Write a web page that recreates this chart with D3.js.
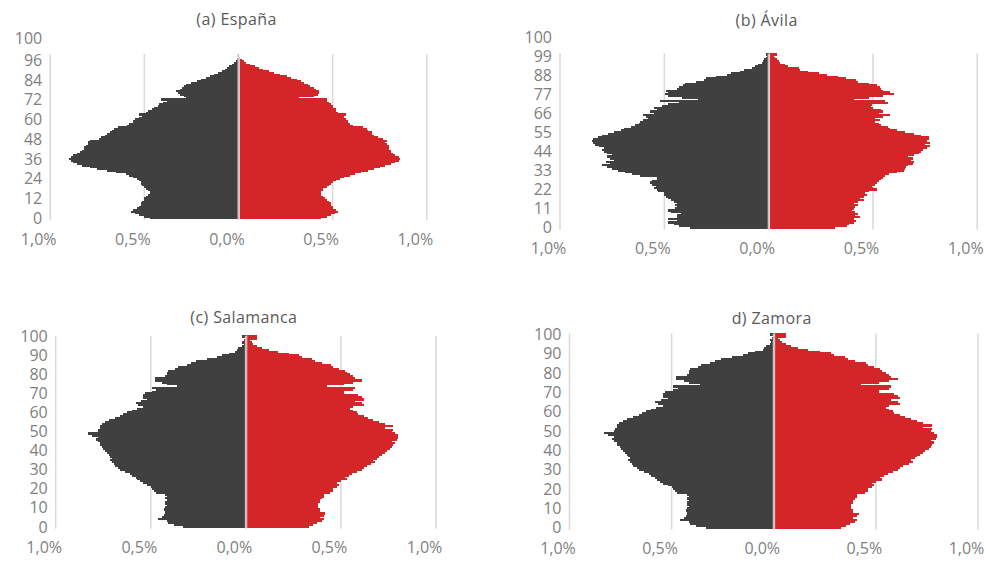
<!DOCTYPE html>
<html><head><meta charset="utf-8">
<script src="https://cdn.jsdelivr.net/npm/d3@7"></script>
<style>
html,body{margin:0;padding:0;background:#fff;}
svg{display:block;font-family:"Open Sans",sans-serif;}
</style></head>
<body><svg id="c" width="986" height="562"></svg>
<script>
// ---------- DATA (percent of total population, by single year of age) ----------
const titles = ["(a) España", "(b) Ávila", "(c) Salamanca", "d) Zamora"];
const xTickValues = [-1, -0.5, 0, 0.5, 1];
const xTickLabels = ["1,0%", "0,5%", "0,0%", "0,5%", "1,0%"];
const yTickStep = [12, 11, 10, 10];
const extraTopLabel = ["100", "100", null, null];

// España: ages 0..99
const espanaMen = [0.47,0.50,0.53,0.55,0.57,0.56,0.54,0.53,0.52,0.52,
 0.51,0.50,0.50,0.49,0.48,0.47,0.47,0.48,0.49,0.50,
 0.51,0.52,0.52,0.53,0.54,0.56,0.58,0.60,0.65,0.70,
 0.75,0.79,0.83,0.86,0.88,0.89,0.90,0.89,0.88,0.86,
 0.84,0.83,0.82,0.82,0.81,0.80,0.80,0.79,0.74,0.73,
 0.71,0.70,0.68,0.67,0.66,0.64,0.59,0.58,0.56,0.56,
 0.55,0.53,0.51,0.53,0.49,0.48,0.46,0.45,0.43,0.42,
 0.40,0.38,0.41,0.28,0.29,0.31,0.32,0.33,0.31,0.30,
 0.29,0.28,0.25,0.22,0.20,0.17,0.15,0.13,0.11,0.09,
 0.07,0.06,0.05,0.035,0.025,0.015,0.01,0.005,0.003,0.002];
const espanaWomen = [0.44,0.47,0.49,0.51,0.53,0.52,0.50,0.50,0.49,0.49,
 0.48,0.47,0.46,0.45,0.44,0.44,0.44,0.45,0.45,0.47,
 0.48,0.49,0.50,0.52,0.54,0.56,0.59,0.62,0.65,0.69,
 0.72,0.75,0.78,0.81,0.83,0.85,0.86,0.85,0.83,0.82,
 0.81,0.81,0.80,0.80,0.80,0.79,0.78,0.79,0.77,0.74,
 0.72,0.71,0.71,0.69,0.68,0.66,0.61,0.59,0.58,0.58,
 0.57,0.56,0.56,0.57,0.53,0.52,0.52,0.50,0.50,0.49,
 0.48,0.47,0.47,0.32,0.40,0.42,0.43,0.43,0.41,0.40,
 0.38,0.37,0.35,0.33,0.31,0.28,0.26,0.22,0.19,0.16,
 0.13,0.11,0.09,0.06,0.04,0.03,0.02,0.01,0.005,0.003];

// Ávila: ages 0..100
const avilaMen = [0.375,0.43,0.455,0.48,0.44,0.48,0.44,0.44,0.42,0.47,
 0.48,0.45,0.44,0.45,0.44,0.455,0.47,0.48,0.49,0.50,
 0.50,0.53,0.535,0.55,0.54,0.56,0.57,0.56,0.535,0.535,
 0.615,0.655,0.69,0.72,0.75,0.775,0.80,0.76,0.78,0.74,
 0.76,0.775,0.75,0.775,0.79,0.80,0.79,0.815,0.83,0.84,
 0.845,0.84,0.82,0.80,0.77,0.74,0.71,0.695,0.66,0.64,
 0.62,0.615,0.60,0.58,0.59,0.60,0.55,0.57,0.535,0.55,
 0.51,0.48,0.43,0.52,0.34,0.415,0.48,0.495,0.48,0.49,
 0.44,0.43,0.41,0.40,0.35,0.31,0.30,0.25,0.20,0.18,
 0.135,0.12,0.08,0.065,0.05,0.03,0.025,0.02,0.013,0.01,0.013];
const avilaWomen = [0.32,0.375,0.385,0.41,0.42,0.41,0.44,0.415,0.43,0.415,
 0.40,0.41,0.415,0.43,0.41,0.43,0.455,0.44,0.455,0.47,
 0.46,0.48,0.52,0.50,0.495,0.51,0.52,0.53,0.54,0.55,
 0.56,0.575,0.615,0.65,0.655,0.66,0.67,0.69,0.695,0.68,
 0.69,0.67,0.695,0.72,0.73,0.74,0.76,0.775,0.75,0.775,
 0.76,0.767,0.767,0.73,0.695,0.655,0.615,0.58,0.57,0.54,
 0.53,0.51,0.535,0.51,0.55,0.58,0.53,0.55,0.54,0.50,
 0.49,0.495,0.57,0.56,0.41,0.48,0.55,0.60,0.58,0.55,
 0.54,0.535,0.52,0.48,0.43,0.42,0.37,0.33,0.28,0.24,
 0.19,0.15,0.145,0.095,0.08,0.055,0.05,0.04,0.03,0.025,0.04];

// Salamanca: ages 0..100
const salamancaMen = [0.33,0.38,0.41,0.415,0.46,0.44,0.43,0.425,0.425,0.43,
 0.425,0.415,0.425,0.425,0.415,0.425,0.415,0.425,0.475,0.485,
 0.495,0.50,0.52,0.54,0.555,0.57,0.58,0.60,0.61,0.635,
 0.66,0.67,0.69,0.695,0.705,0.715,0.705,0.715,0.72,0.73,
 0.74,0.75,0.755,0.765,0.765,0.78,0.79,0.78,0.81,0.83,
 0.78,0.775,0.765,0.765,0.757,0.74,0.72,0.69,0.66,0.645,
 0.625,0.60,0.575,0.54,0.565,0.58,0.55,0.52,0.54,0.54,
 0.53,0.495,0.47,0.495,0.36,0.415,0.44,0.48,0.48,0.425,
 0.415,0.415,0.41,0.37,0.355,0.31,0.29,0.26,0.205,0.15,
 0.125,0.09,0.055,0.047,0.04,0.02,0.012,0.018,0.01,0.004,0.018];
const salamancaWomen = [0.33,0.355,0.375,0.40,0.41,0.39,0.41,0.415,0.39,0.39,
 0.38,0.38,0.38,0.39,0.39,0.40,0.41,0.41,0.445,0.46,
 0.46,0.48,0.49,0.48,0.50,0.53,0.52,0.54,0.56,0.585,
 0.61,0.62,0.635,0.66,0.68,0.67,0.69,0.70,0.715,0.73,
 0.74,0.76,0.77,0.775,0.785,0.77,0.795,0.80,0.80,0.785,
 0.77,0.775,0.73,0.775,0.73,0.70,0.67,0.645,0.62,0.59,
 0.585,0.565,0.55,0.565,0.62,0.61,0.575,0.62,0.61,0.59,
 0.515,0.515,0.565,0.575,0.425,0.515,0.565,0.61,0.575,0.565,
 0.55,0.53,0.52,0.49,0.46,0.45,0.40,0.365,0.35,0.295,
 0.28,0.225,0.17,0.12,0.085,0.058,0.04,0.03,0.023,0.058,0.058];

// Zamora: ages 0..100 (matches panel c)
const zamoraMen = [0.33,0.38,0.41,0.415,0.46,0.44,0.43,0.425,0.425,0.43,
 0.425,0.415,0.425,0.425,0.415,0.425,0.415,0.425,0.475,0.485,
 0.495,0.50,0.52,0.54,0.555,0.57,0.58,0.60,0.61,0.635,
 0.66,0.67,0.69,0.695,0.705,0.715,0.705,0.715,0.72,0.73,
 0.74,0.75,0.755,0.765,0.765,0.78,0.79,0.78,0.81,0.83,
 0.78,0.775,0.765,0.765,0.757,0.74,0.72,0.69,0.66,0.645,
 0.625,0.60,0.575,0.54,0.565,0.58,0.55,0.52,0.54,0.54,
 0.53,0.495,0.47,0.495,0.36,0.415,0.44,0.48,0.48,0.425,
 0.415,0.415,0.41,0.37,0.355,0.31,0.29,0.26,0.205,0.15,
 0.125,0.09,0.055,0.047,0.04,0.02,0.012,0.018,0.01,0.004,0.018];
const zamoraWomen = [0.33,0.355,0.375,0.40,0.41,0.39,0.41,0.415,0.39,0.39,
 0.38,0.38,0.38,0.39,0.39,0.40,0.41,0.41,0.445,0.46,
 0.46,0.48,0.49,0.48,0.50,0.53,0.52,0.54,0.56,0.585,
 0.61,0.62,0.635,0.66,0.68,0.67,0.69,0.70,0.715,0.73,
 0.74,0.76,0.77,0.775,0.785,0.77,0.795,0.80,0.80,0.785,
 0.77,0.775,0.73,0.775,0.73,0.70,0.67,0.645,0.62,0.59,
 0.585,0.565,0.55,0.565,0.62,0.61,0.575,0.62,0.61,0.59,
 0.515,0.515,0.565,0.575,0.425,0.515,0.565,0.61,0.575,0.565,
 0.55,0.53,0.52,0.49,0.46,0.45,0.40,0.365,0.35,0.295,
 0.28,0.225,0.17,0.12,0.085,0.058,0.04,0.03,0.023,0.058,0.058];

const menSeries = [espanaMen, avilaMen, salamancaMen, zamoraMen];
const womenSeries = [espanaWomen, avilaWomen, salamancaWomen, zamoraWomen];

// ---------- LAYOUT ----------
const layout = [
  {x0: 50.2, x1: 426.8, top: 54.2, bottom: 219.1, titleY: 19.5},
  {x0: 560.0, x1: 977.3, top: 53.5, bottom: 228.6, titleY: 20},
  {x0: 55.7, x1: 436.0, top: 335.7, bottom: 527.7, titleY: 317.5},
  {x0: 569.5, x1: 978.0, top: 333.4, bottom: 528.7, titleY: 318}
];
const colMen = "#404040", colWomen = "#d42529";
const gridCol = "#d9d9d9", tickCol = "#7f7f7f", titleCol = "#595959";

const svg = d3.select("#c");

layout.forEach((L, i) => {
  const men = menSeries[i], women = womenSeries[i];
  const ages = d3.range(men.length);
  const g = svg.append("g");
  const x = d3.scaleLinear().domain([-1, 1]).range([L.x0, L.x1]);
  const y = d3.scaleBand().domain(ages).range([L.bottom, L.top]).paddingInner(0).paddingOuter(0);
  const bw = y.bandwidth();
  const cx = x(0);

  // gridlines
  g.selectAll("line.grid").data(xTickValues.filter(v => v !== 0)).join("line")
    .attr("x1", d => x(d)).attr("x2", d => x(d))
    .attr("y1", L.top).attr("y2", L.bottom + 1)
    .attr("stroke", gridCol).attr("stroke-width", 1.5);

  // bars
  const bars = g.append("g").attr("shape-rendering", "crispEdges");
  bars.selectAll("rect.m").data(ages).join("rect")
    .attr("x", a => x(-men[a])).attr("width", a => cx - x(-men[a]))
    .attr("y", a => y(a) - 0.3).attr("height", bw + 0.6)
    .attr("fill", colMen);
  bars.selectAll("rect.w").data(ages).join("rect")
    .attr("x", cx).attr("width", a => x(women[a]) - cx)
    .attr("y", a => y(a) - 0.3).attr("height", bw + 0.6)
    .attr("fill", colWomen);

  // central axis line
  g.append("line").attr("x1", cx + 0.9).attr("x2", cx + 0.9)
    .attr("y1", L.top).attr("y2", L.bottom + 1)
    .attr("stroke", "#ffffff").attr("stroke-width", 0.8);
  g.append("line").attr("x1", cx - 0.2).attr("x2", cx - 0.2)
    .attr("y1", L.top).attr("y2", L.bottom + 1)
    .attr("stroke", "#c4c4c4").attr("stroke-width", 1.6);

  // x tick labels
  g.selectAll("text.xt").data(xTickValues).join("text")
    .attr("x", d => x(d) - 11.5).attr("y", L.bottom + 20)
    .attr("dy", "0.36em").attr("text-anchor", "middle")
    .attr("font-size", 16).attr("fill", tickCol)
    .text((d, k) => xTickLabels[k]);

  // y tick labels
  const yt = ages.filter(a => a % yTickStep[i] === 0);
  g.selectAll("text.yt").data(yt).join("text")
    .attr("x", L.x0 - 8).attr("y", a => y(a) + bw / 2)
    .attr("dy", "0.36em").attr("text-anchor", "end")
    .attr("font-size", 16).attr("fill", tickCol)
    .text(a => String(a));
  if (extraTopLabel[i]) {
    g.append("text").attr("x", L.x0 - 8).attr("y", L.top - 16)
      .attr("dy", "0.36em").attr("text-anchor", "end")
      .attr("font-size", 16).attr("fill", tickCol).text(extraTopLabel[i]);
  }

  // title
  g.append("text").attr("x", (L.x0 + L.x1) / 2 - 2).attr("y", L.titleY)
    .attr("dy", "0.36em").attr("text-anchor", "middle")
    .attr("font-size", 16).attr("letter-spacing", 0.4)
    .attr("fill", titleCol).text(titles[i]);
});
</script>
</body></html>
